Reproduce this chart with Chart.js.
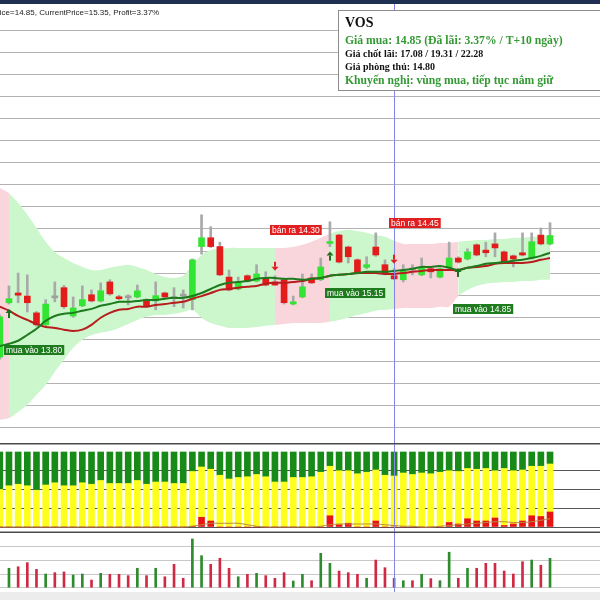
<!DOCTYPE html>
<html>
<head>
<meta charset="utf-8">
<script src="https://cdn.jsdelivr.net/npm/chart.js@4.4.1/dist/chart.umd.min.js"></script>
<style>
  html, body { margin: 0; padding: 0; background: #fff; }
  #wrap { position: relative; width: 600px; height: 600px; overflow: hidden; }
  .pane { position: absolute; left: 0; width: 600px; }
  #topbar { position: absolute; left: 0; top: 0; width: 600px; height: 4px; background: #1f2f52; }
  #footer { position: absolute; left: 0; top: 592px; width: 600px; height: 8px; background: #ececec; }
</style>
</head>
<body>
<div id="wrap">
  <div class="pane" style="top:0;height:443px"><canvas id="priceChart" width="600" height="443"></canvas></div>
  <div class="pane" style="top:443px;height:90px"><canvas id="flowChart" width="600" height="90"></canvas></div>
  <div class="pane" style="top:533px;height:59px"><canvas id="volumeChart" width="600" height="59"></canvas></div>
  <div id="topbar"></div>
  <div id="footer"></div>
</div>
<script>
// Daily candles, oldest first (one entry per session)
const opens = [12.60, 13.83, 14.05, 13.98, 13.60, 13.33, 13.94, 14.17, 13.53, 13.76,
  14.01, 13.87, 14.30, 13.96, 13.94, 13.96, 13.90, 13.87, 14.05, 13.92,
  13.98, 13.90, 15.10, 15.30, 15.10, 14.41, 14.14, 14.44, 14.32, 14.39,
  14.30, 14.35, 13.80, 13.96, 14.39, 14.35, 15.17, 15.36, 15.09, 14.80,
  14.63, 15.09, 14.69, 14.44, 14.35, 14.57, 14.46, 14.60, 14.41, 14.62,
  14.84, 14.82, 15.14, 15.02, 15.16, 14.98, 14.89, 14.96, 14.84, 15.36, 15.16];
const highs = [13.55, 14.21, 14.50, 14.46, 13.63, 13.90, 14.30, 14.22, 13.96, 14.21,
  14.12, 14.28, 14.35, 14.00, 14.01, 14.23, 13.92, 14.30, 14.07, 14.17,
  14.12, 14.82, 15.82, 15.55, 15.20, 14.57, 14.41, 14.46, 14.69, 14.53,
  14.44, 14.37, 13.98, 14.48, 14.48, 14.84, 15.66, 15.38, 15.11, 14.82,
  14.87, 15.41, 14.80, 14.60, 14.69, 14.69, 14.84, 14.62, 14.62, 15.20,
  14.87, 15.05, 15.16, 15.20, 15.41, 15.00, 14.91, 15.41, 15.41, 15.52, 15.64];
const lows = [12.55, 13.80, 13.83, 13.62, 13.30, 13.28, 13.85, 13.70, 13.50, 13.74,
  13.85, 13.85, 14.00, 13.90, 13.78, 13.94, 13.74, 13.67, 13.94, 13.74,
  13.71, 13.67, 14.93, 15.08, 14.44, 14.10, 14.12, 14.30, 14.30, 14.21,
  14.22, 13.80, 13.78, 13.94, 14.26, 14.33, 15.10, 14.73, 14.73, 14.48,
  14.60, 14.88, 14.46, 14.35, 14.30, 14.46, 14.44, 14.39, 14.39, 14.60,
  14.73, 14.80, 14.89, 14.87, 14.87, 14.73, 14.64, 14.89, 14.82, 15.14, 15.14];
const closes = [13.51, 13.92, 14.00, 13.83, 13.33, 13.80, 13.94, 13.74, 13.71, 13.90,
  13.87, 14.10, 14.03, 13.92, 13.94, 14.10, 13.76, 13.99, 13.96, 13.92,
  13.98, 14.80, 15.30, 15.10, 14.46, 14.12, 14.28, 14.32, 14.48, 14.23,
  14.23, 13.83, 13.85, 14.19, 14.28, 14.64, 15.21, 14.75, 14.87, 14.50,
  14.69, 14.91, 14.48, 14.37, 14.55, 14.57, 14.62, 14.53, 14.60, 14.84,
  14.75, 14.98, 14.91, 14.96, 15.07, 14.75, 14.82, 14.91, 15.21, 15.16, 15.35];

// Moving averages and envelope
const maFast = [12.85, 12.90, 12.97, 13.10, 13.24, 13.42, 13.53, 13.58, 13.60, 13.65,
  13.69, 13.76, 13.80, 13.85, 13.85, 13.87, 13.89, 13.89, 13.92, 13.94,
  13.94, 13.98, 14.05, 14.14, 14.23, 14.28, 14.30, 14.32, 14.37, 14.39,
  14.39, 14.37, 14.37, 14.35, 14.37, 14.39, 14.44, 14.46, 14.48, 14.50,
  14.53, 14.53, 14.53, 14.55, 14.57, 14.60, 14.64, 14.64, 14.66, 14.62,
  14.57, 14.62, 14.66, 14.71, 14.73, 14.75, 14.78, 14.80, 14.84, 14.89, 14.96];
const maSlow = [13.74, 13.65, 13.53, 13.44, 13.35, 13.28, 13.26, 13.22, 13.19, 13.22,
  13.33, 13.49, 13.60, 13.67, 13.69, 13.74, 13.74, 13.78, 13.80, 13.83,
  13.85, 13.92, 13.98, 14.05, 14.12, 14.14, 14.17, 14.19, 14.21, 14.26,
  14.28, 14.28, 14.30, 14.32, 14.37, 14.39, 14.44, 14.46, 14.48, 14.50,
  14.50, 14.50, 14.48, 14.48, 14.50, 14.53, 14.55, 14.57, 14.57, 14.57,
  14.57, 14.62, 14.64, 14.66, 14.71, 14.73, 14.73, 14.73, 14.75, 14.80, 14.84];
const bandUpper = [16.43, 16.31, 16.09, 15.82, 15.52, 15.21, 14.98, 14.84, 14.73, 14.64,
  14.57, 14.57, 14.62, 14.66, 14.69, 14.64, 14.57, 14.48, 14.41, 14.39,
  14.44, 14.69, 14.91, 15.02, 15.05, 15.07, 15.07, 15.07, 15.07, 15.07,
  15.07, 15.07, 15.09, 15.14, 15.21, 15.30, 15.39, 15.45, 15.48, 15.45,
  15.41, 15.36, 15.32, 15.23, 15.16, 15.16, 15.16, 15.16, 15.18, 15.18,
  15.21, 15.23, 15.25, 15.25, 15.27, 15.27, 15.30, 15.30, 15.32, 15.34, 15.36];
const bandLower = [11.18, 11.22, 11.36, 11.52, 11.75, 11.97, 12.27, 12.54, 12.81, 12.99,
  13.10, 13.15, 13.19, 13.26, 13.35, 13.44, 13.51, 13.55, 13.55, 13.58,
  13.62, 13.67, 13.49, 13.37, 13.31, 13.26, 13.26, 13.26, 13.28, 13.31,
  13.33, 13.35, 13.37, 13.37, 13.37, 13.37, 13.40, 13.44, 13.49, 13.55,
  13.60, 13.65, 13.67, 13.69, 13.71, 13.71, 13.71, 13.71, 13.74, 13.74,
  13.98, 14.12, 14.21, 14.26, 14.28, 14.30, 14.30, 14.32, 14.32, 14.35, 14.35];

// Money flow panel (% of session)
const flowBuy = [50, 45, 43, 45, 51, 44, 41, 45, 45, 41,
  43, 38, 42, 42, 42, 38, 43, 40, 40, 42,
  42, 26, 20, 23, 31, 36, 34, 33, 30, 33,
  40, 40, 34, 34, 33, 27, 19, 25, 25, 29,
  27, 24, 31, 32, 28, 30, 28, 29, 27, 25,
  26, 22, 23, 22, 25, 22, 25, 24, 19, 19, 16];
const flowSell = [0, 0, 0, 0, 0, 0, 0, 0, 0, 0,
  0, 0, 0, 0, 0, 0, 0, 0, 0, 0,
  0, 1, 13, 8, 0, 0, 0, 0, 0, 0,
  0, 0, 0, 0, 0, 0, 15, 3, 5, 0,
  0, 8, 0, 0, 0, 0, 0, 0, 0, 6,
  4, 11, 8, 8, 12, 2, 4, 8, 15, 14, 20];
const flowAvg = [0, 0, 0, 0, 0, 0, 0, 0, 0, 0,
  0, 0, 0, 0, 0, 0, 0, 0, 0, 0,
  0, 1, 3, 5, 5, 5, 5, 3, 1, 0,
  0, 0, 0, 0, 0, 1, 3, 4, 4, 4,
  4, 4, 3, 2, 1, 1, 0, 0, 1, 2,
  3, 4, 5, 6, 7, 7, 6, 6, 7, 9, 11];

// Volume (thousand shares)
const volumes = [null, 142, 153, 183, 134, 100, 110, 115, 93, 100,
  56, 105, 98, 98, 88, 142, 88, 142, 80, 171,
  69, 356, 234, 171, 215, 142, 80, 98, 105, 88,
  69, 110, 49, 98, 51, 251, 178, 122, 110, 98,
  69, 202, 146, 69, 51, 51, 98, 66, 51, 259,
  69, 142, 142, 178, 178, 122, 100, 190, 202, 164, 215];

// Signals
const buyIndex = [1, 36, 50];
const buyText = ['mua vào 13.80', 'mua vào 15.15', 'mua vào 14.85'];
const sellIndex = [30, 43];
const sellText = ['bán ra 14.30', 'bán ra 14.45'];
const markerIndex = 43;

const priceGrid = [11, 11.5, 12, 12.5, 13, 13.5, 14, 14.5, 15, 15.5, 16, 16.5, 17, 17.5, 18, 18.5, 19, 19.5, 20];
const flowGrid = [0, 25, 50, 75];
const volumeGrid = [0, 100, 200, 300];

const headerText = 'BuyPrice=14.85, CurrentPrice=15.35, Profit=3.37%';
const infoTitle = 'VOS';
const infoBuy = 'Giá mua: 14.85 (Đã lãi: 3.37% / T+10 ngày)';
const infoTargets = 'Giá chốt lãi: 17.08 / 19.31 / 22.28';
const infoStop = 'Giá phòng thủ: 14.80';
const infoAdvice = 'Khuyến nghị: vùng mua, tiếp tục nắm giữ';

const GREEN_BAND = '#ccf6cc';
const PINK_BAND = '#f9d6dc';
const CANDLE_UP = '#33e533';
const CANDLE_DOWN = '#e31b1b';
const X_MIN = 0.022, X_MAX = 65.45;
const SANS = '"Liberation Sans", Arial, sans-serif';
const SERIF = '"Liberation Serif", "Times New Roman", serif';

const pts = arr => arr.map((v, i) => ({ x: i, y: v }));

// sell state lasts from a sell signal until the next buy (and before the first buy)
function inSellZone(i) {
  let last = -1, sell = true;
  buyIndex.forEach(b => { if (b <= i && b > last) { last = b; sell = false; } });
  sellIndex.forEach(s => { if (s <= i && s > last) { last = s; sell = true; } });
  return sell;
}

const xAxis = { type: 'linear', min: X_MIN, max: X_MAX, display: false, offset: false };

function yAxis(min, max, grid, color, z) {
  return {
    type: 'linear', position: 'right', min: min, max: max, z: z || 0,
    ticks: { display: false },
    border: { display: false },
    grid: { color: color, lineWidth: 1, drawTicks: false },
    afterBuildTicks: s => { s.ticks = grid.map(v => ({ value: v })); },
    afterFit: s => { s.width = 0; }
  };
}

const baseOptions = {
  responsive: false,
  animation: false,
  events: [],
  layout: { padding: 0 },
  plugins: { legend: { display: false }, tooltip: { enabled: false } }
};

// Blue vertical marker shared by the three panels
const markerLine = {
  id: 'markerLine',
  afterDatasetsDraw(chart) {
    const { ctx, scales: { x } } = chart;
    const px = Math.round(x.getPixelForValue(markerIndex)) + 0.5;
    ctx.save();
    ctx.strokeStyle = '#8585e6';
    ctx.lineWidth = 1;
    ctx.beginPath();
    ctx.moveTo(px, 0);
    ctx.lineTo(px, chart.height);
    ctx.stroke();
    ctx.restore();
  }
};

function drawArrow(ctx, cx, top, up, color) {
  ctx.fillStyle = color;
  ctx.beginPath();
  if (up) {
    ctx.moveTo(cx, top);
    ctx.lineTo(cx + 3.5, top + 4);
    ctx.lineTo(cx - 3.5, top + 4);
    ctx.closePath();
    ctx.fill();
    ctx.fillRect(cx - 1, top + 4, 2, 5);
  } else {
    ctx.fillRect(cx - 1, top, 2, 5);
    ctx.moveTo(cx - 3.5, top + 5);
    ctx.lineTo(cx + 3.5, top + 5);
    ctx.lineTo(cx, top + 9);
    ctx.closePath();
    ctx.fill();
  }
}

function drawTag(ctx, left, top, text, bg) {
  ctx.font = '8.5px ' + SANS;
  const w = ctx.measureText(text).width + 4;
  ctx.fillStyle = bg;
  ctx.fillRect(left, top, w, 10);
  ctx.fillStyle = '#ffffff';
  ctx.textBaseline = 'middle';
  ctx.fillText(text, left + 2, top + 5.5);
}

const priceOverlay = {
  id: 'priceOverlay',
  afterDraw(chart) {
    const { ctx, scales: { x, y } } = chart;
    ctx.save();

    // buy / sell signals
    buyIndex.forEach((idx, k) => {
      const cx = Math.round(x.getPixelForValue(idx));
      const yLow = y.getPixelForValue(lows[idx]);
      drawArrow(ctx, cx, yLow + 5, true, '#1b6f1b');
      drawTag(ctx, cx - 5, Math.round(yLow + 41), buyText[k], '#1e7b1e');
    });
    sellIndex.forEach((idx, k) => {
      const cx = Math.round(x.getPixelForValue(idx));
      const yHigh = y.getPixelForValue(highs[idx]);
      drawArrow(ctx, cx, yHigh - 14, false, '#e02020');
      drawTag(ctx, cx - 5, Math.round(yHigh - 51), sellText[k], '#e02020');
    });

    // header line (cut by the left edge like the original)
    ctx.font = '8px ' + SANS;
    ctx.fillStyle = '#222';
    ctx.textBaseline = 'alphabetic';
    ctx.fillText(headerText, -22, 15);

    // info box
    ctx.fillStyle = '#ffffff';
    ctx.fillRect(338.5, 10.5, 270, 80);
    ctx.strokeStyle = '#8c8c8c';
    ctx.lineWidth = 1;
    ctx.strokeRect(338.5, 10.5, 270, 80);
    ctx.fillStyle = '#111';
    ctx.font = 'bold 14px ' + SERIF;
    ctx.fillText(infoTitle, 345, 27);
    ctx.fillStyle = '#339933';
    ctx.font = 'bold 11.7px ' + SERIF;
    ctx.fillText(infoBuy, 345, 44);
    ctx.fillStyle = '#111';
    ctx.font = 'bold 10px ' + SERIF;
    ctx.fillText(infoTargets, 345, 56.5);
    ctx.fillText(infoStop, 345, 69.5);
    ctx.fillStyle = '#339933';
    ctx.font = 'bold 11.7px ' + SERIF;
    ctx.fillText(infoAdvice, 345, 83.5);
    ctx.restore();
  }
};

const panelFrame = {
  id: 'panelFrame',
  afterDraw(chart) {
    const ctx = chart.ctx;
    ctx.save();
    ctx.strokeStyle = '#4a4a4a';
    ctx.lineWidth = 1.5;
    ctx.beginPath();
    ctx.moveTo(0, 0.75); ctx.lineTo(600, 0.75);
    ctx.moveTo(0, chart.height - 0.75); ctx.lineTo(600, chart.height - 0.75);
    ctx.stroke();
    ctx.restore();
  }
};

// ---- price panel ----
const bodyColors = opens.map((o, i) => closes[i] > o ? CANDLE_UP : (closes[i] < o ? CANDLE_DOWN : '#a0a0a0'));

new Chart(document.getElementById('priceChart'), {
  type: 'line',
  data: {
    datasets: [
      { type: 'line', data: pts(bandLower), borderColor: 'rgba(0,0,0,0)', borderWidth: 0, pointRadius: 0, tension: 0.3, fill: false, order: 10 },
      {
        type: 'line', data: pts(bandUpper), borderColor: 'rgba(0,0,0,0)', borderWidth: 0, pointRadius: 0, tension: 0.3,
        fill: '-1', backgroundColor: GREEN_BAND, order: 9,
        segment: { backgroundColor: c => inSellZone(c.p0DataIndex) ? PINK_BAND : GREEN_BAND }
      },
      { type: 'bar', data: lows.map((l, i) => ({ x: i, y: [l, highs[i]] })), backgroundColor: '#a9a9a9', barThickness: 2, grouped: false, order: 6 },
      { type: 'bar', data: opens.map((o, i) => ({ x: i, y: [o, closes[i]] })), backgroundColor: bodyColors, barThickness: 6, minBarLength: 2, grouped: false, order: 5 },
      { type: 'line', data: pts(maSlow), borderColor: '#b81c1c', borderWidth: 2, pointRadius: 0, tension: 0.3, fill: false, order: 2 },
      { type: 'line', data: pts(maFast), borderColor: '#1d7a1d', borderWidth: 2, pointRadius: 0, tension: 0.3, fill: false, order: 1 }
    ]
  },
  options: Object.assign({}, baseOptions, {
    scales: { x: xAxis, y: yAxis(10.656, 20.679, priceGrid, '#b3b3b3') }
  }),
  plugins: [markerLine, priceOverlay]
});

// ---- money flow panel ----
new Chart(document.getElementById('flowChart'), {
  type: 'line',
  data: {
    datasets: [
      { type: 'bar', data: flowSell.map((v, i) => ({ x: i, y: [0, v] })), backgroundColor: '#e81414', barThickness: 6, grouped: false, order: 3 },
      { type: 'bar', data: flowBuy.map((v, i) => ({ x: i, y: [flowSell[i], 100 - v] })), backgroundColor: '#ffff1e', barThickness: 6, grouped: false, order: 4 },
      { type: 'bar', data: flowBuy.map((v, i) => ({ x: i, y: [100 - v, 100] })), backgroundColor: '#178a17', barThickness: 6, grouped: false, order: 5 },
      { type: 'line', data: pts(flowAvg), borderColor: '#b8883a', borderWidth: 1, pointRadius: 0, tension: 0.3, fill: false, order: 1 }
    ]
  },
  options: Object.assign({}, baseOptions, {
    scales: { x: xAxis, y: yAxis(-8, 112, flowGrid, '#555555', 1) }
  }),
  plugins: [markerLine, panelFrame]
});

// ---- volume panel ----
new Chart(document.getElementById('volumeChart'), {
  type: 'bar',
  data: {
    datasets: [{
      data: volumes.map((v, i) => ({ x: i, y: v })),
      backgroundColor: opens.map((o, i) => closes[i] > o ? '#2e8b2e' : '#cf2a45'),
      barThickness: 2
    }]
  },
  options: Object.assign({}, baseOptions, {
    scales: { x: xAxis, y: yAxis(-31.4, 399.6, volumeGrid, '#c8c8c8') }
  }),
  plugins: [markerLine]
});
</script>
</body>
</html>
